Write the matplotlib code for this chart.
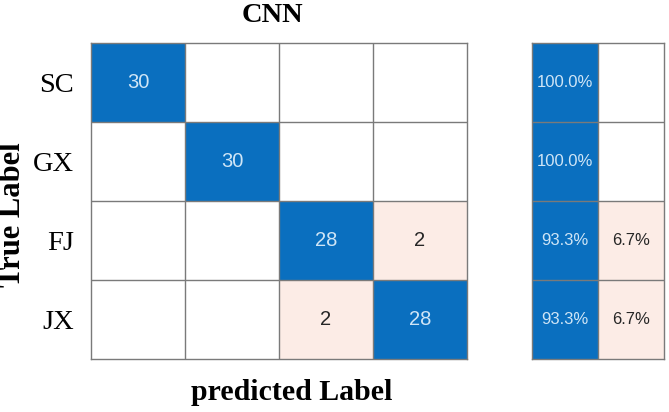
import numpy as np
import matplotlib
matplotlib.use("Agg")
import matplotlib.pyplot as plt

# confusion matrix data
classes = ["SC", "GX", "FJ", "JX"]
cm = np.array([[30, 0, 0, 0],
               [0, 30, 0, 0],
               [0, 0, 28, 2],
               [0, 0, 2, 28]])
row_correct = [100.0, 100.0, 93.3, 93.3]
row_wrong = [0.0, 0.0, 6.7, 6.7]

blue = "#0A6FBF"
pink = "#FCECE6"
line_col = "#7a7a7a"
txt_light = "#CFE5F6"
txt_dark = "#262626"

fig = plt.figure(figsize=(6.69, 4.12), dpi=100)
W, H = 669, 412


def px_axes(x0, y0, x1, y1):
    return fig.add_axes([x0 / W, 1 - y1 / H, (x1 - x0) / W, (y1 - y0) / H])


def cell_colors(vals, diag_mask):
    rgb = np.ones(vals.shape + (3,))
    for (i, j), v in np.ndenumerate(vals):
        if v == 0:
            continue
        c = blue if diag_mask[i, j] else pink
        rgb[i, j] = matplotlib.colors.to_rgb(c)
    return rgb


def draw_grid(ax, nr, nc):
    ax.set_xlim(-0.5, nc - 0.5)
    ax.set_ylim(nr - 0.5, -0.5)
    for k in range(1, nc):
        ax.axvline(k - 0.5, color=line_col, lw=1)
    for k in range(1, nr):
        ax.axhline(k - 0.5, color=line_col, lw=1)
    for s in ax.spines.values():
        s.set_color(line_col)
        s.set_linewidth(1)


# main matrix
ax = px_axes(91, 43, 467, 359)
n = len(classes)
ax.imshow(cell_colors(cm, np.eye(n, dtype=bool)), aspect="auto",
          interpolation="nearest")
draw_grid(ax, n, n)
for (i, j), v in np.ndenumerate(cm):
    if v == 0:
        continue
    ax.text(j, i, str(v), ha="center", va="center", fontsize=14.5,
            family="Liberation Sans",
            color=txt_light if i == j else txt_dark)
ax.set_xticks([])
ax.set_yticks(range(n))
ax.set_yticklabels(classes, family="Liberation Serif", fontsize=20.5)
ax.tick_params(axis="y", length=0, pad=12)

# row summary
ax2 = px_axes(532, 43, 664, 359)
summ = np.column_stack([row_correct, row_wrong])
mask = np.zeros_like(summ, dtype=bool)
mask[:, 0] = True
ax2.imshow(cell_colors(summ, mask), aspect="auto", interpolation="nearest")
draw_grid(ax2, n, 2)
for (i, j), v in np.ndenumerate(summ):
    if v == 0:
        continue
    ax2.text(j, i, f"{v:.1f}%", ha="center", va="center", fontsize=12,
             family="Liberation Sans",
             color=txt_light if j == 0 else txt_dark)
ax2.set_xticks([])
ax2.set_yticks([])

# labels
fig.text(272 / W, 1 - 15 / H, "CNN", ha="center", va="center",
         family="Liberation Serif", fontweight="bold", fontsize=20.5)
fig.text(292 / W, 1 - 393 / H, "predicted Label", ha="center", va="center",
         family="Liberation Serif", fontweight="bold", fontsize=21.5)
fig.text(13 / W, 1 - 215 / H, "True Label", ha="center", va="center",
         rotation=90, family="Liberation Serif", fontweight="bold",
         fontsize=22)

fig.savefig("out.png", dpi=100)
